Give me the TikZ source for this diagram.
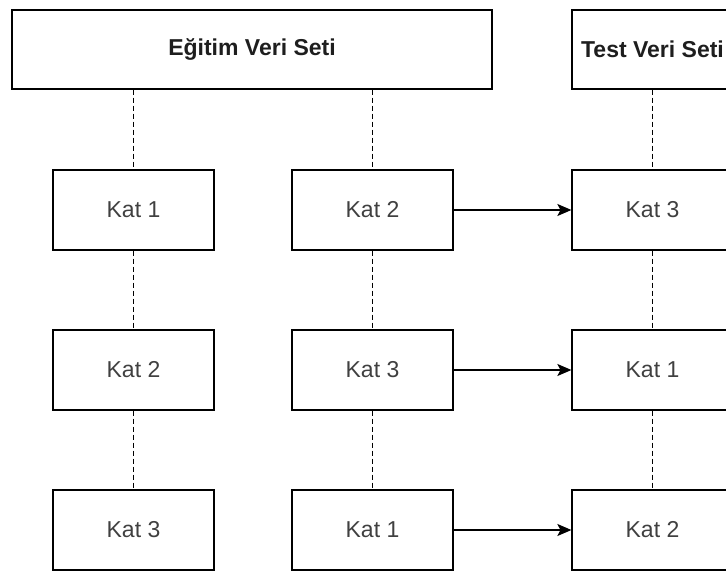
\documentclass[tikz,border=0pt]{standalone}
\usepackage{fontspec}
\setmainfont{Liberation Sans}
\usepackage{xcolor}
\definecolor{katText}{RGB}{64,64,64}
\definecolor{setText}{RGB}{30,30,30}
\usepackage{tikz}
\usetikzlibrary{arrows.meta,positioning}
\tikzstyle{setbox}=[rectangle, draw=black, line width=1.2pt, minimum height=79pt, text=setText, font=\fontsize{23}{27}\selectfont\bfseries]
\tikzstyle{katbox}=[rectangle, draw=black, line width=1.2pt, minimum width=161pt, minimum height=80pt, text=katText, font=\fontsize{23}{27}\selectfont]
\tikzstyle{katlink}=[dashed, dash pattern=on 5pt off 3pt, line width=1.2pt]
\tikzstyle{katarrow}=[-{Stealth[length=14pt,width=12pt,inset=3pt]}, line width=1.2pt]

\begin{document}
\begin{tikzpicture}[x=1pt, y=-1pt]
        \useasboundingbox (0,0) rectangle (726,572);
        \clip (0,0) rectangle (726,572);

        % Veri setleri
        \node[setbox, minimum width=480pt] (egitim) at (252, 49.5) {Eğitim Veri Seti};
        \node[setbox, minimum width=161pt] (test) at (652.5, 49.5) {Test Veri Seti};

        % Katlar
        \node[katbox] (a1) at (133.5, 210) {Kat 1};
        \node[katbox] (a2) at (133.5, 370) {Kat 2};
        \node[katbox] (a3) at (133.5, 530) {Kat 3};

        \node[katbox] (b1) at (372.5, 210) {Kat 2};
        \node[katbox] (b2) at (372.5, 370) {Kat 3};
        \node[katbox] (b3) at (372.5, 530) {Kat 1};

        \node[katbox] (c1) at (652.5, 210) {Kat 3};
        \node[katbox] (c2) at (652.5, 370) {Kat 1};
        \node[katbox] (c3) at (652.5, 530) {Kat 2};

        % Kesikli bağlantılar
        \draw[katlink] (a1.north |- egitim.south) -- (a1.north);
        \draw[katlink] (a1) -- (a2);
        \draw[katlink] (a2) -- (a3);
        \draw[katlink] (b1.north |- egitim.south) -- (b1.north);
        \draw[katlink] (b1) -- (b2);
        \draw[katlink] (b2) -- (b3);
        \draw[katlink] (test) -- (c1);
        \draw[katlink] (c1) -- (c2);
        \draw[katlink] (c2) -- (c3);

        % Test katına oklar
        \draw[katarrow] (b1) -- (c1);
        \draw[katarrow] (b2) -- (c2);
        \draw[katarrow] (b3) -- (c3);
      \end{tikzpicture}
\end{document}
